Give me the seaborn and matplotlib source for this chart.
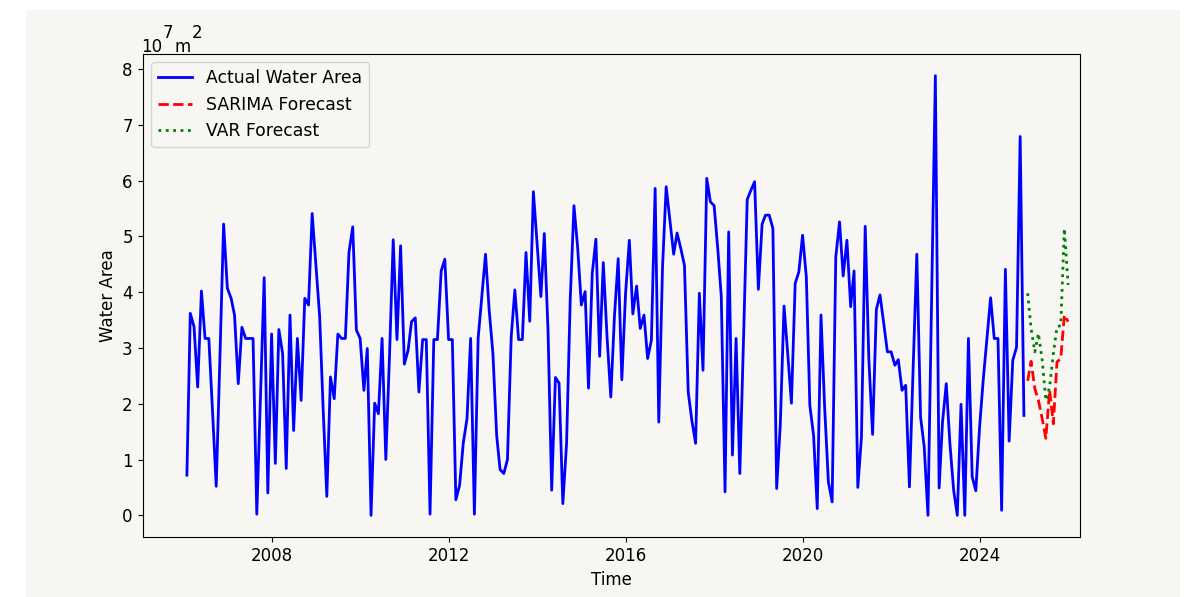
import numpy as np
import pandas as pd
import matplotlib
matplotlib.use("Agg")
import matplotlib.pyplot as plt
import matplotlib.dates as mdates
from matplotlib.patches import Rectangle
import seaborn as sns

# ---- data ----
actual_start = "2006-01-31"
actual_values = [
    0.72, 3.62, 3.38, 2.30, 4.02, 3.17, 3.17, 1.85, 0.52, 2.86,
    5.22, 4.07, 3.89, 3.59, 2.36, 3.37, 3.17, 3.17, 3.17, 0.02,
    2.13, 4.26, 0.40, 3.25, 0.93, 3.33, 2.90, 0.84, 3.59, 1.52,
    3.17, 2.06, 3.89, 3.77, 5.41, 4.48, 3.56, 1.94, 0.34, 2.48,
    2.09, 3.25, 3.17, 3.17, 4.72, 5.17, 3.32, 3.17, 2.24, 2.99,
    0.00, 2.01, 1.82, 3.17, 1.00, 2.90, 4.94, 3.15, 4.83, 2.71,
    2.96, 3.47, 3.54, 2.21, 3.15, 3.15, 0.02, 3.15, 3.15, 4.38,
    4.59, 3.15, 3.15, 0.28, 0.54, 1.29, 1.73, 3.17, 0.02, 3.17,
    3.92, 4.68, 3.68, 2.90, 1.43, 0.82, 0.75, 1.00, 3.20, 4.04,
    3.15, 3.15, 4.71, 3.48, 5.80, 4.85, 3.92, 5.05, 3.30, 0.45,
    2.47, 2.37, 0.21, 1.29, 3.86, 5.55, 4.81, 3.77, 4.01, 2.28,
    4.34, 4.95, 2.85, 4.53, 3.20, 2.12, 3.56, 4.60, 2.43, 3.98,
    4.93, 3.61, 4.11, 3.35, 3.59, 2.81, 3.14, 5.86, 1.67, 4.45,
    5.89, 5.29, 4.68, 5.06, 4.78, 4.48, 2.21, 1.70, 1.29, 3.98,
    2.60, 6.04, 5.62, 5.55, 4.75, 3.92, 0.42, 5.08, 1.08, 3.17,
    0.75, 3.20, 5.66, 5.83, 5.98, 4.05, 5.22, 5.38, 5.38, 5.14,
    0.48, 1.62, 3.75, 2.88, 2.01, 4.16, 4.36, 5.02, 4.27, 1.97,
    1.43, 0.12, 3.59, 1.94, 0.60, 0.24, 4.63, 5.26, 4.29, 4.93,
    3.74, 4.38, 0.50, 1.40, 5.18, 2.80, 1.45, 3.69, 3.95, 3.44,
    2.93, 2.93, 2.69, 2.79, 2.24, 2.33, 0.51, 2.60, 4.68, 1.76,
    1.23, 0.00, 3.90, 7.88, 0.49, 1.67, 2.36, 1.29, 0.45, 0.00,
    1.99, 0.00, 3.17, 0.69, 0.44, 1.58, 2.45, 3.15, 3.90, 3.17,
    3.17, 0.09, 4.41, 1.33, 2.78, 3.01, 6.79, 1.79,
]
forecast_start = "2025-01-31"
sarima_values = [2.41, 2.76, 2.27, 2.06, 1.73, 1.38, 2.24, 1.64, 2.75, 2.81, 3.59, 3.47]
var_values = [3.98, 3.35, 2.93, 3.26, 2.78, 2.06, 2.30, 2.90, 3.38, 3.40, 5.14, 4.13]

series_labels = ["Actual Water Area", "SARIMA Forecast", "VAR Forecast"]
x_label = "Time"
y_label = "Water Area"

actual_dates = pd.date_range(actual_start, periods=len(actual_values), freq="ME")
fc_dates = pd.date_range(forecast_start, periods=len(sarima_values), freq="ME")
df_actual = pd.DataFrame({"date": actual_dates, "value": actual_values})
df_sarima = pd.DataFrame({"date": fc_dates, "value": sarima_values})
df_var = pd.DataFrame({"date": fc_dates, "value": var_values})

# ---- figure ----
W, H = 1203, 597
bg = "#f7f6f2"
plt.rcParams["font.size"] = 12
fig = plt.figure(figsize=(W / 100, H / 100), dpi=100, facecolor="white")
# beige chart card inside a thin white page margin
fig.patches.append(Rectangle((26 / W, 0), (1180 - 26) / W, 1 - 10 / H,
                             transform=fig.transFigure, facecolor=bg,
                             edgecolor="none", zorder=-10))
ax_left, ax_right, ax_top, ax_bottom = 142.5, 1080.0, 53.7, 537.3
ax = fig.add_axes([ax_left / W, 1 - ax_bottom / H, (ax_right - ax_left) / W,
                   (ax_bottom - ax_top) / H])
ax.set_facecolor(bg)

sns.lineplot(data=df_actual, x="date", y="value", ax=ax, color="blue",
             linewidth=2, label=series_labels[0])
sns.lineplot(data=df_sarima, x="date", y="value", ax=ax, color="red",
             linewidth=2, linestyle="--", label=series_labels[1])
sns.lineplot(data=df_var, x="date", y="value", ax=ax, color="green",
             linewidth=2, linestyle=":", label=series_labels[2])

# x range as in the reference (2008 tick at 271.7 px, 2024 tick at 979.7 px)
d08 = mdates.date2num(pd.Timestamp("2008-01-01"))
d24 = mdates.date2num(pd.Timestamp("2024-01-01"))
ppd = (979.7 - 271.7) / (d24 - d08)
ax.set_xlim(d08 - (271.7 - ax_left) / ppd, d24 + (ax_right - 979.7) / ppd)

ax.set_xlabel(x_label)
ax.set_ylabel(y_label)
ax.legend(loc="upper left", facecolor=bg, fontsize=12.4)

# unit label "10^7 m^2"
ufs = 12
fig.text(141.5 / W, 1 - 51.7 / H, "10", fontsize=ufs, va="baseline", ha="left")
fig.text(162.5 / W, 1 - 38.5 / H, "7", fontsize=ufs, va="baseline", ha="left")
fig.text(174.5 / W, 1 - 51.7 / H, "m", fontsize=ufs, va="baseline", ha="left")
fig.text(192.0 / W, 1 - 38.5 / H, "2", fontsize=ufs, va="baseline", ha="left")

fig.savefig("out.png", dpi=100, facecolor="white")
